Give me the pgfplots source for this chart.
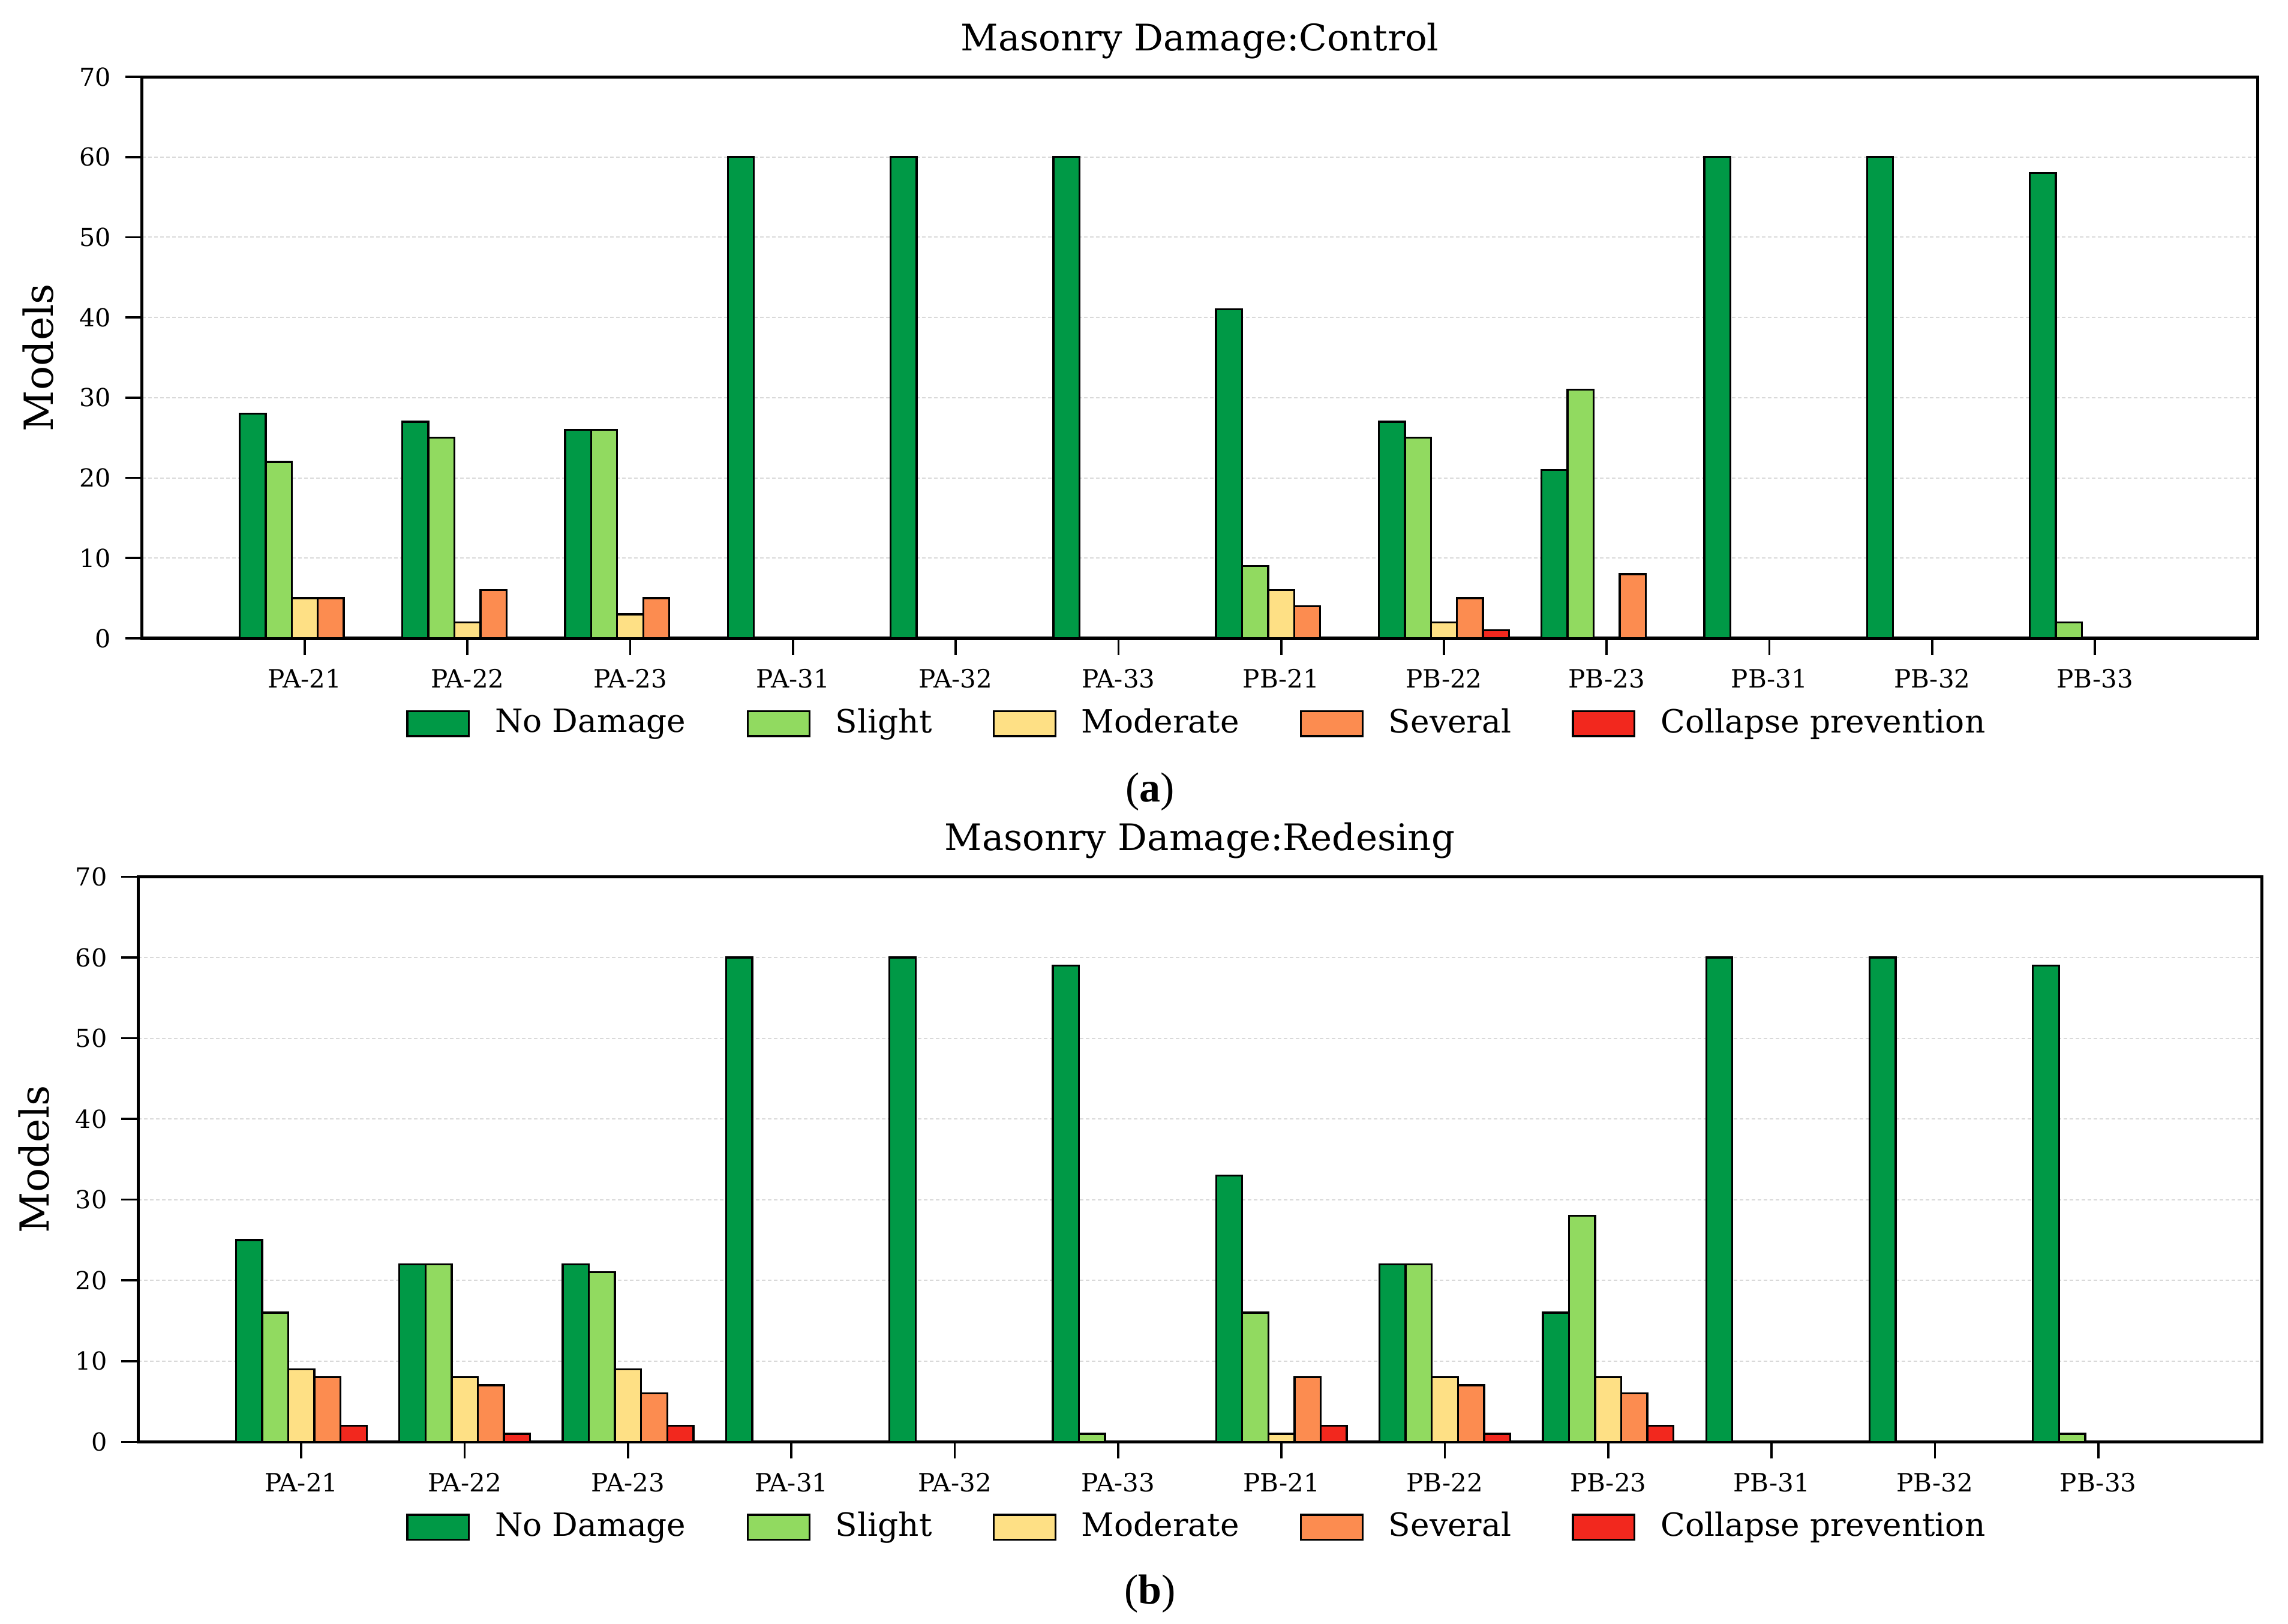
\documentclass[border=0pt]{standalone}
\usepackage{fontspec}
\setmainfont{DejaVu Serif}
\newfontfamily\capfont{Liberation Serif}
\usepackage{pgfplots}
\usepackage{pgfplotstable}
\pgfplotsset{compat=1.18}

\definecolor{cND}{RGB}{0,153,70}
\definecolor{cSL}{RGB}{145,218,96}
\definecolor{cMO}{RGB}{254,224,133}
\definecolor{cSV}{RGB}{252,140,80}
\definecolor{cCP}{RGB}{242,40,30}

% control
\pgfplotstableread{
x nd sl mo sv cp
0 28 22 5 5 0
1 27 25 2 6 0
2 26 26 3 5 0
3 60 0 0 0 0
4 60 0 0 0 0
5 60 0 0 0 0
6 41 9 6 4 0
7 27 25 2 5 1
8 21 31 0 8 0
9 60 0 0 0 0
10 60 0 0 0 0
11 58 2 0 0 0
}\control

% redesign
\pgfplotstableread{
x nd sl mo sv cp
0 25 16 9 8 2
1 22 22 8 7 1
2 22 21 9 6 2
3 60 0 0 0 0
4 60 0 0 0 0
5 59 1 0 0 0
6 33 16 1 8 2
7 22 22 8 7 1
8 16 28 8 6 2
9 60 0 0 0 0
10 60 0 0 0 0
11 59 1 0 0 0
}\redesign

\pgfplotsset{
  dmgbar/.style={ybar, bar width=0.16, draw=black, line width=0.5pt,
    legend image code/.code={\draw[##1,draw=black,line width=0.5pt] (0pt,-3.1pt) rectangle (15.4pt,3.1pt);}},
  dmg/.style={
    scale only axis,
    xmin=-1, xmax=12, ymin=0, ymax=70,
    xtick={0,...,11},
    xticklabels={PA-21,PA-22,PA-23,PA-31,PA-32,PA-33,PB-21,PB-22,PB-23,PB-31,PB-32,PB-33},
    ytick={0,10,...,70},
    tick align=outside, tick pos=left,
    major tick length=4.2pt,
    tick style={black, line width=0.55pt},
    axis line style={line width=0.75pt},
    ymajorgrids,
    grid style={dash pattern=on 0.9pt off 0.6pt, gray!30, line width=0.3pt},
    /pgf/number format/assume math mode=true,
    x tick label style={font=\fontsize{6.3}{7}\selectfont},
    y tick label style={font=\fontsize{6.2}{7}\selectfont},
    every axis title/.style={font=\fontsize{9.15}{10}\selectfont, at={(0.5,1)}, anchor=base, yshift=6.6pt},
    ylabel={Models},
    ylabel style={font=\fontsize{9.2}{10}\selectfont},
    every axis y label/.style={at={(axis description cs:-0.049,0.5)}, rotate=90, anchor=center},
    legend style={draw=none, fill=none, legend columns=5, anchor=center,
      font=\fontsize{8}{9}\selectfont,
      /tikz/every odd column/.append style={column sep=4.3pt},
      /tikz/every even column/.append style={column sep=13.2pt}},
    legend cell align=left,
  }
}

\begin{document}
\begin{tikzpicture}
\path[use as bounding box] (0,0) rectangle (572.1pt,-406pt);

\begin{axis}[dmg, at={(35.5pt,-159.6pt)}, anchor=south west,
  width=529pt, height=140.4pt,
  title={Masonry Damage:Control},
  legend style={at={(0.5,-0.152)}}]
\addplot[dmgbar, fill=cND, bar shift=-0.32] table[x=x,y=nd] {\control};
\addplot[dmgbar, fill=cSL, bar shift=-0.16] table[x=x,y=sl] {\control};
\addplot[dmgbar, fill=cMO, bar shift=0] table[x=x,y=mo] {\control};
\addplot[dmgbar, fill=cSV, bar shift=0.16] table[x=x,y=sv] {\control};
\addplot[dmgbar, fill=cCP, bar shift=0.32] table[x=x,y=cp] {\control};
\legend{No Damage, Slight, Moderate, Several, Collapse prevention}
\end{axis}

\begin{axis}[dmg, at={(34.5pt,-360.5pt)}, anchor=south west,
  width=531pt, height=141.3pt,
  title={Masonry Damage:Redesing},
  legend style={at={(0.5,-0.151)}}]
\addplot[dmgbar, fill=cND, bar shift=-0.32] table[x=x,y=nd] {\redesign};
\addplot[dmgbar, fill=cSL, bar shift=-0.16] table[x=x,y=sl] {\redesign};
\addplot[dmgbar, fill=cMO, bar shift=0] table[x=x,y=mo] {\redesign};
\addplot[dmgbar, fill=cSV, bar shift=0.16] table[x=x,y=sv] {\redesign};
\addplot[dmgbar, fill=cCP, bar shift=0.32] table[x=x,y=cp] {\redesign};
\legend{No Damage, Slight, Moderate, Several, Collapse prevention}
\end{axis}

\node[font=\capfont\fontsize{10.5}{12}\selectfont] at (287.6pt,-198pt) {(\textbf{a})};
\node[font=\capfont\fontsize{10.5}{12}\selectfont] at (287.6pt,-398.5pt) {(\textbf{b})};
\end{tikzpicture}
\end{document}
